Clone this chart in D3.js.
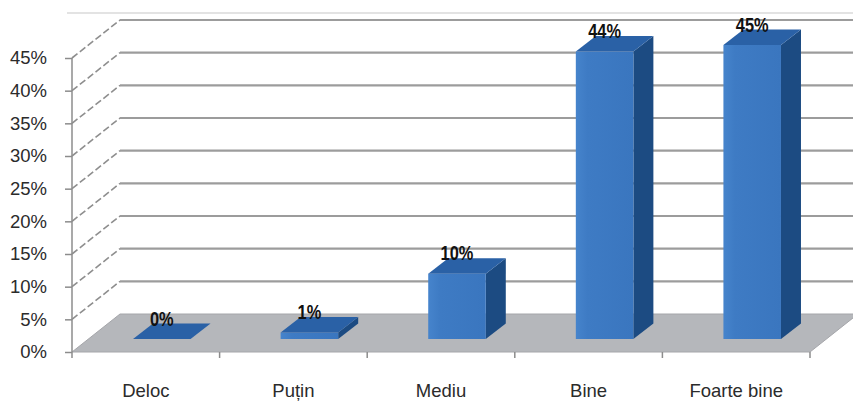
<!DOCTYPE html>
<html>
<head>
<meta charset="utf-8">
<script src="https://cdn.jsdelivr.net/npm/d3@7"></script>
<style>
  html, body { margin: 0; padding: 0; background: #fff; }
  svg { display: block; }
</style>
</head>
<body>
<svg id="chart" width="853" height="401"></svg>
<script>
// Survey answers and their share of respondents (%)
const categories = ["Deloc", "Puțin", "Mediu", "Bine", "Foarte bine"];
const values = [0, 1, 10, 44, 45];
const tickValues = [0, 5, 10, 15, 20, 25, 30, 35, 40, 45];

const svg = d3.select("#chart");
const W = 853, H = 401;

// Plot frame: front floor edge and value axis
const left = 72, right = 810;
const y = d3.scaleLinear().domain([0, 45]).range([352, 58]);
const x = d3.scaleBand().domain(categories).range([left, right]).padding(0);

// Oblique depth of the 3D box
const depth = { dx: 48, dy: -38 };
// Bars sit inside the box between these depth fractions
const barFront = { dx: 16, dy: -13 };
const barBack = { dx: 36, dy: -28.5 };
const barWidth = x.bandwidth() * 0.39;

const gridColor = "#9c9c9c";

// Front face shading: slightly lighter toward the left edge
const defs = svg.append("defs");
const grad = defs.append("linearGradient").attr("id", "frontFace")
  .attr("x1", "0").attr("x2", "1").attr("y1", "0").attr("y2", "0");
grad.append("stop").attr("offset", "0").attr("stop-color", "#4684cc");
grad.append("stop").attr("offset", "0.2").attr("stop-color", "#3e7bc4");
grad.append("stop").attr("offset", "1").attr("stop-color", "#3a76bf");

// Top border line
svg.append("line")
  .attr("x1", 67).attr("x2", W).attr("y1", 13).attr("y2", 13)
  .attr("stroke", "#c8c8c8").attr("stroke-width", 1.2);

// Floor
const y0 = y(0);
svg.append("path")
  .attr("d", d3.line()([
    [left, y0], [right, y0], [right + depth.dx, y0 + depth.dy], [left + depth.dx, y0 + depth.dy]
  ]) + "Z")
  .attr("fill", "#b5b7bb")
  .attr("stroke", "#a5a6aa").attr("stroke-width", 1);

// Wall gridlines: dashed slant on the side wall, solid along the back
tickValues.forEach(v => {
  const yy = y(v);
  if (v > 0) {
    svg.append("line")
      .attr("x1", left).attr("y1", yy)
      .attr("x2", left + depth.dx).attr("y2", yy + depth.dy)
      .attr("stroke", "#8e8e8e").attr("stroke-width", 1.6)
      .attr("stroke-dasharray", "7,3");
    svg.append("line")
      .attr("x1", left + depth.dx).attr("y1", yy + depth.dy)
      .attr("x2", W).attr("y2", yy + depth.dy)
      .attr("stroke", gridColor).attr("stroke-width", 2.2);
  }
});

// Value axis
const axisG = svg.append("g").attr("transform", `translate(${left},0)`)
  .call(d3.axisLeft(y).tickValues(tickValues).tickSize(7).tickPadding(18)
    .tickFormat(d => d + "%"));
axisG.select(".domain").attr("stroke", "#8c8c8c").attr("stroke-width", 1.5)
  .attr("d", `M0,${y(45)}V${y0 + 6}`);
axisG.selectAll(".tick line").attr("stroke", "#8c8c8c").attr("stroke-width", 1.5);
axisG.selectAll(".tick text")
  .attr("font-family", "Arial, 'Liberation Sans', sans-serif")
  .attr("font-size", 18.5).attr("fill", "#2b2b2b");

// Category ticks along the floor front edge
const bounds = categories.map(c => x(c)).concat([right]);
bounds.slice(1).forEach(bx => {
  svg.append("line")
    .attr("x1", bx).attr("x2", bx).attr("y1", y0).attr("y2", y0 + 6)
    .attr("stroke", "#8c8c8c").attr("stroke-width", 1.5);
});

// Category labels
svg.append("g").selectAll("text").data(categories).join("text")
  .attr("x", d => x(d) + x.bandwidth() / 2)
  .attr("y", 397)
  .attr("text-anchor", "middle")
  .attr("font-family", "Arial, 'Liberation Sans', sans-serif")
  .attr("font-size", 18.5).attr("fill", "#2b2b2b")
  .text(d => d);

// 3D bars
const bars = svg.append("g");
const ddx = barBack.dx - barFront.dx, ddy = barBack.dy - barFront.dy;
categories.forEach((c, i) => {
  const v = values[i];
  const xl = x(c) + (x.bandwidth() - barWidth) / 2 + barFront.dx;
  const xr = xl + barWidth;
  const yb = y0 + barFront.dy;
  const yt = y(v) + barFront.dy;
  const g = bars.append("g");
  // right side face
  g.append("path")
    .attr("d", d3.line()([[xr, yt], [xr + ddx, yt + ddy], [xr + ddx, yb + ddy], [xr, yb]]) + "Z")
    .attr("fill", "#1c4b82");
  // front face
  if (yb - yt > 0) {
    g.append("rect")
      .attr("x", xl).attr("y", yt).attr("width", barWidth).attr("height", yb - yt)
      .attr("fill", "url(#frontFace)");
  }
  // top face
  g.append("path")
    .attr("d", d3.line()([[xl, yt], [xr, yt], [xr + ddx, yt + ddy], [xl + ddx, yt + ddy]]) + "Z")
    .attr("fill", "#2a61a6");
  // value label (condensed bold)
  g.append("text")
    .attr("transform", `translate(${xl + barWidth / 2},${yt + ddy + 2}) scale(0.78,1)`)
    .attr("text-anchor", "middle")
    .attr("font-family", "Arial, 'Liberation Sans', sans-serif")
    .attr("font-weight", "bold")
    .attr("font-size", 21)
    .attr("fill", "#111")
    .text(v + "%");
});
</script>
</body>
</html>
